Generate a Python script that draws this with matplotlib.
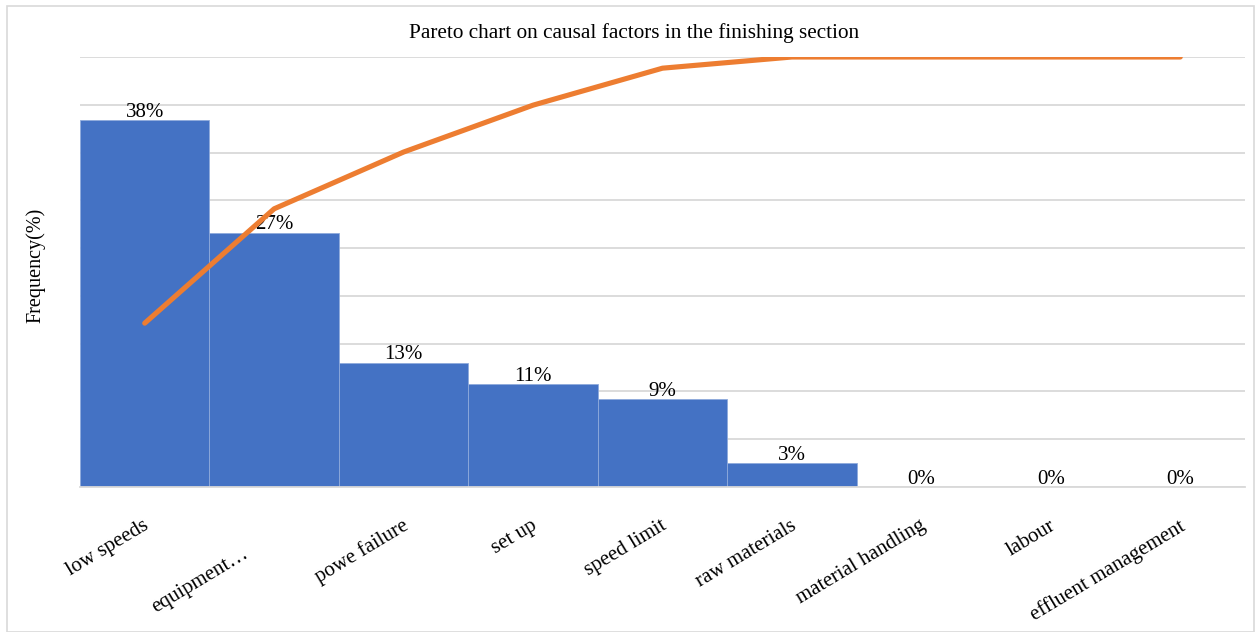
import matplotlib
matplotlib.use("Agg")
import matplotlib.pyplot as plt
from matplotlib.patches import Rectangle
from matplotlib.transforms import ScaledTranslation

categories = ["low speeds", "equipment…", "powe failure", "set up", "speed limit",
              "raw materials", "material handling", "labour", "effluent management"]
frequency = [38.4, 26.6, 13.0, 10.75, 9.2, 2.5, 0, 0, 0]
cumulative = [38.1, 64.7, 77.9, 88.8, 97.4, 100, 100, 100, 100]
bar_labels = ["38%", "27%", "13%", "11%", "9%", "3%", "0%", "0%", "0%"]

plt.rcParams['font.family'] = ['Liberation Serif', 'DejaVu Serif']

W, H = 1260, 632
fig = plt.figure(figsize=(W / 100, H / 100), dpi=100)
ax = fig.add_axes([80 / W, (H - 487) / H, (1245 - 80) / W, (487 - 57) / H])

x = list(range(len(categories)))
ax.bar(x, frequency, width=1.0, color="#4472C4", edgecolor="#8FAADC", linewidth=0.6, zorder=2)
ax.set_xlim(-0.5, len(categories) - 0.5)
ax.set_ylim(0, 45)
ax.set_yticks(range(0, 46, 5))
ax.yaxis.grid(True, color="#D9D9D9", linewidth=1.3, zorder=0)
ax.set_axisbelow(True)
for s in ["top", "right", "left"]:
    ax.spines[s].set_visible(False)
ax.spines["bottom"].set_color("#D9D9D9")
ax.spines["bottom"].set_linewidth(1.3)

ax.set_xticks(x)
ax.set_xticklabels(categories, rotation=31, ha='right', va='top',
                   rotation_mode='anchor', fontsize=15)

for xi, v, lab in zip(x, frequency, bar_labels):
    ax.text(xi, v + 0.35, lab, ha='center', va='baseline', fontsize=15, zorder=5)

ax.set_ylabel("Frequency(%)", fontsize=14.5)
ax.yaxis.set_label_coords(-0.030, 0.515)

ax2 = ax.twinx()
ax2.set_ylim(0, 100)
ax2.plot(x, cumulative, color="#ED7D31", linewidth=3.7, solid_capstyle='round',
         solid_joinstyle='round', zorder=4)
ax2.axis('off')

ax.tick_params(axis='y', left=False, right=False, labelleft=False, labelright=False)
ax.tick_params(axis='x', length=0, pad=21)

# small label shifts (Excel-style placement)
for i, t in enumerate(ax.get_xticklabels()):
    dx, dy = -2, 0
    if i == 1:
        dx, dy = -32, -28
    t.set_transform(t.get_transform() + ScaledTranslation(dx / 100, dy / 100, fig.dpi_scale_trans))

fig.text(634 / W, 1 - 33 / H, "Pareto chart on causal factors in the finishing section",
         ha='center', va='center', fontsize=15.3)

fig.patches.append(Rectangle((7 / W, 0), (1254 - 7) / W, (H - 6) / H, transform=fig.transFigure,
                             fill=False, edgecolor="#D9D9D9", linewidth=1.2))

fig.savefig("out.png", dpi=100)
